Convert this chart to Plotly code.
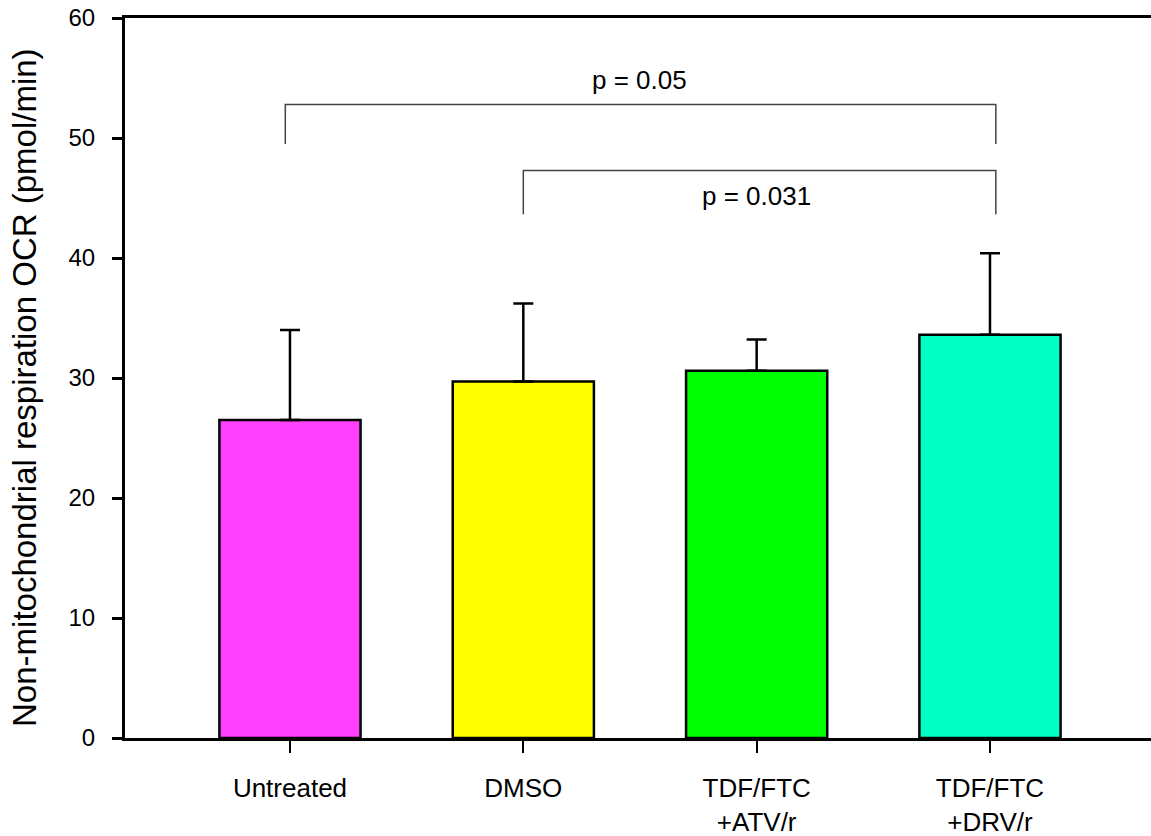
import plotly.graph_objects as go

# ---- data ----
categories = ["Untreated", "DMSO", "TDF/FTC<br>+ATV/r", "TDF/FTC<br>+DRV/r"]
means = [26.5, 29.7, 30.6, 33.6]
upper = [34.0, 36.2, 33.2, 40.4]          # top of error bar (mean + SD)
colors = ["#FF40FF", "#FFFF00", "#00FF00", "#00FFC4"]

bracket_pairs = [(0, 3), (1, 3)]
bracket_heights = [52.8, 47.3]
bracket_drops = [3.3, 3.65]
p_labels = ["p = 0.05", "p = 0.031"]
p_label_y = [54.8, 45.2]

y_ticks = [0, 10, 20, 30, 40, 50, 60]

FONT = "Liberation Sans, Arial, sans-serif"

x = list(range(len(categories)))
err_plus = [u - m for u, m in zip(upper, means)]

fig = go.Figure()
fig.add_trace(go.Bar(
    x=x, y=means, width=0.605,
    marker=dict(color=colors, line=dict(color="black", width=2.5)),
    error_y=dict(type="data", array=err_plus, symmetric=False,
                 arrayminus=[0] * len(means),
                 color="black", thickness=2.5, width=10),
    showlegend=False,
))

shapes = []
annotations = []
for (a, b), h, d, lab, ly in zip(bracket_pairs, bracket_heights, bracket_drops, p_labels, p_label_y):
    xa = a - 0.02 if a == 0 else a
    xb = b + 0.025
    shapes.append(dict(type="path", xref="x", yref="y",
                       path=f"M {xa} {h - d} L {xa} {h} L {xb} {h} L {xb} {h - d}",
                       line=dict(color="#444444", width=1.5)))
    annotations.append(dict(x=(a + b) / 2, y=ly, xref="x", yref="y",
                            text=lab, showarrow=False,
                            font=dict(family=FONT, size=26, color="black"),
                            xanchor="center", yanchor="middle"))

annotations.append(dict(x=-0.0975, y=0.4875, xref="paper", yref="paper",
                        text="Non-mitochondrial respiration OCR (pmol/min)",
                        textangle=-90, showarrow=False,
                        font=dict(family=FONT, size=33, color="black"),
                        xanchor="center", yanchor="middle"))

fig.update_layout(
    width=1151, height=836,
    margin=dict(l=125, r=0, t=18, b=98),
    paper_bgcolor="white", plot_bgcolor="white",
    bargap=0.4,
    shapes=shapes, annotations=annotations,
    font=dict(family=FONT, color="black"),
)
fig.update_xaxes(
    range=[-0.707, 3.69], tickvals=x, ticktext=categories,
    ticks="outside", ticklen=12, tickwidth=2, tickcolor="black",
    showline=True, linewidth=3, linecolor="black", mirror=True,
    showgrid=False, zeroline=False,
    tickfont=dict(family=FONT, size=26, color="black"),
    ticklabelstandoff=13,
)
fig.update_yaxes(
    range=[0, 60], tickvals=y_ticks,
    ticks="outside", ticklen=10, tickwidth=2.5, tickcolor="black",
    showline=True, linewidth=3, linecolor="black",
    showgrid=False, zeroline=False,
    tickfont=dict(family=FONT, size=24, color="black"),
    ticklabelstandoff=12,
)

fig.write_html("out.html")
